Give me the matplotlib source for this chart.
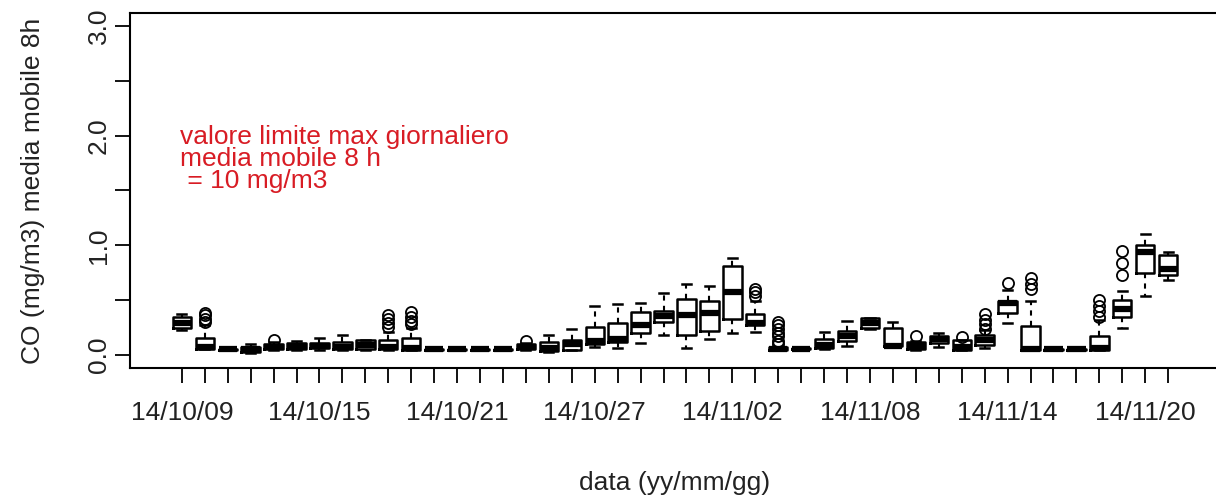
import matplotlib
matplotlib.use("Agg")
import matplotlib.pyplot as plt

plt.rcParams['font.family'] = ['Liberation Sans', 'DejaVu Sans']

# ---- data ----
dates = ["14/10/09", "14/10/10", "14/10/11", "14/10/12", "14/10/13", "14/10/14",
         "14/10/15", "14/10/16", "14/10/17", "14/10/18", "14/10/19", "14/10/20",
         "14/10/21", "14/10/22", "14/10/23", "14/10/24", "14/10/25", "14/10/26",
         "14/10/27", "14/10/28", "14/10/29", "14/10/30", "14/10/31", "14/11/01",
         "14/11/02", "14/11/03", "14/11/04", "14/11/05", "14/11/06", "14/11/07",
         "14/11/08", "14/11/09", "14/11/10", "14/11/11", "14/11/12", "14/11/13",
         "14/11/14", "14/11/15", "14/11/16", "14/11/17", "14/11/18", "14/11/19",
         "14/11/20", "14/11/21"]

whislo = [0.23, 0.05, 0.04, 0.02, 0.04, 0.04, 0.04, 0.04, 0.04, 0.045, 0.04, 0.045,
          0.045, 0.045, 0.045, 0.04, 0.03, 0.04, 0.07, 0.06, 0.11, 0.18, 0.06, 0.145,
          0.20, 0.21, 0.04, 0.045, 0.05, 0.08, 0.24, 0.07, 0.04, 0.075, 0.04, 0.06,
          0.29, 0.04, 0.045, 0.045, 0.04, 0.245, 0.54, 0.68]
q1 = [0.245, 0.055, 0.045, 0.03, 0.05, 0.05, 0.06, 0.05, 0.05, 0.052, 0.045, 0.048,
      0.048, 0.048, 0.048, 0.05, 0.035, 0.045, 0.10, 0.115, 0.20, 0.30, 0.18, 0.22,
      0.325, 0.27, 0.045, 0.05, 0.06, 0.13, 0.245, 0.08, 0.05, 0.107, 0.045, 0.09,
      0.38, 0.045, 0.048, 0.048, 0.045, 0.35, 0.75, 0.73]
med = [0.29, 0.07, 0.05, 0.05, 0.07, 0.08, 0.08, 0.07, 0.09, 0.07, 0.06, 0.052,
       0.052, 0.052, 0.052, 0.07, 0.06, 0.10, 0.13, 0.145, 0.275, 0.357, 0.36, 0.38,
       0.57, 0.295, 0.055, 0.055, 0.09, 0.175, 0.29, 0.085, 0.08, 0.145, 0.07, 0.135,
       0.47, 0.05, 0.052, 0.052, 0.06, 0.42, 0.935, 0.78]
q3 = [0.35, 0.155, 0.055, 0.07, 0.10, 0.11, 0.11, 0.12, 0.135, 0.137, 0.155, 0.056,
      0.056, 0.056, 0.056, 0.10, 0.12, 0.14, 0.255, 0.295, 0.39, 0.40, 0.51, 0.495,
      0.81, 0.37, 0.07, 0.06, 0.145, 0.22, 0.335, 0.245, 0.12, 0.174, 0.135, 0.18,
      0.49, 0.26, 0.056, 0.056, 0.17, 0.50, 1.0, 0.915]
whishi = [0.375, 0.27, 0.06, 0.10, 0.12, 0.13, 0.155, 0.18, 0.14, 0.21, 0.245, 0.06,
          0.06, 0.06, 0.06, 0.11, 0.18, 0.24, 0.45, 0.46, 0.47, 0.56, 0.645, 0.63,
          0.885, 0.49, 0.075, 0.065, 0.21, 0.305, 0.34, 0.30, 0.13, 0.20, 0.14, 0.23,
          0.595, 0.49, 0.06, 0.06, 0.32, 0.58, 1.107, 0.94]
fliers = [[], [0.30, 0.33, 0.36, 0.38], [], [], [0.14], [], [], [], [],
          [0.25, 0.29, 0.33, 0.36], [0.28, 0.31, 0.35, 0.39], [], [], [], [],
          [0.13], [], [], [], [], [], [], [], [], [],
          [0.54, 0.57, 0.60], [0.10, 0.13, 0.17, 0.20, 0.24, 0.27, 0.30], [], [], [],
          [], [], [0.17], [], [0.16], [0.24, 0.28, 0.32, 0.37],
          [0.66], [0.60, 0.65, 0.70], [], [], [0.35, 0.40, 0.45, 0.50],
          [0.73, 0.84, 0.945], [], []]

label_every = 6
yticks = [0.0, 0.5, 1.0, 1.5, 2.0, 2.5, 3.0]
ytick_labels = ["0.0", "", "1.0", "", "2.0", "", "3.0"]
note_lines = ["valore limite max giornaliero", "media mobile 8 h", " = 10 mg/m3"]

# ---- figure ----
W, H = 1216, 499
FS = 19
fig = plt.figure(figsize=(W / 100, H / 100), dpi=100)
ax = fig.add_axes([130 / W, (H - 368) / H, (1220 - 130) / W, (368 - 13) / H])

stats = []
for i in range(len(dates)):
    stats.append(dict(med=med[i], q1=q1[i], q3=q3[i], whislo=whislo[i],
                      whishi=whishi[i], fliers=fliers[i]))
pos = list(range(1, len(dates) + 1))
ax.bxp(stats, positions=pos, widths=0.8, showfliers=True,
       boxprops=dict(color='black', linewidth=1.8),
       whiskerprops=dict(color='black', linewidth=1.5, linestyle=(0, (2.5, 2.5))),
       capprops=dict(color='black', linewidth=1.8),
       medianprops=dict(color='black', linewidth=4.5, solid_capstyle='butt'),
       flierprops=dict(marker='o', markerfacecolor='none', markeredgecolor='black',
                       markersize=8, markeredgewidth=1.3))

ax.set_xlim(-1.26, 46.26)
ax.set_ylim(-0.12, 3.12)

ax.set_xticks(pos)
ax.set_xticklabels([d if (i % label_every == 0) else "" for i, d in enumerate(dates)])
ax.set_yticks(yticks)
ax.set_yticklabels(ytick_labels, rotation=90, va='center')

ax.tick_params(axis='both', length=11, width=1.3, colors='black', labelcolor='#222222',
               labelsize=FS)
ax.tick_params(axis='x', pad=13)
ax.tick_params(axis='y', pad=3)
for s in ax.spines.values():
    s.set_linewidth(1.5)
    s.set_color('black')

ax.set_xlabel("data (yy/mm/gg)", fontsize=FS, color='#222222', labelpad=33)
ax.set_ylabel("CO (mg/m3) media mobile 8h", fontsize=FS, color='#222222', labelpad=30)

for k, line in enumerate(note_lines):
    ax.text(0.92, 1.99 - k * 0.2, line, color='#d81c24', fontsize=FS,
            ha='left', va='center')

fig.savefig("out.png", dpi=100)
